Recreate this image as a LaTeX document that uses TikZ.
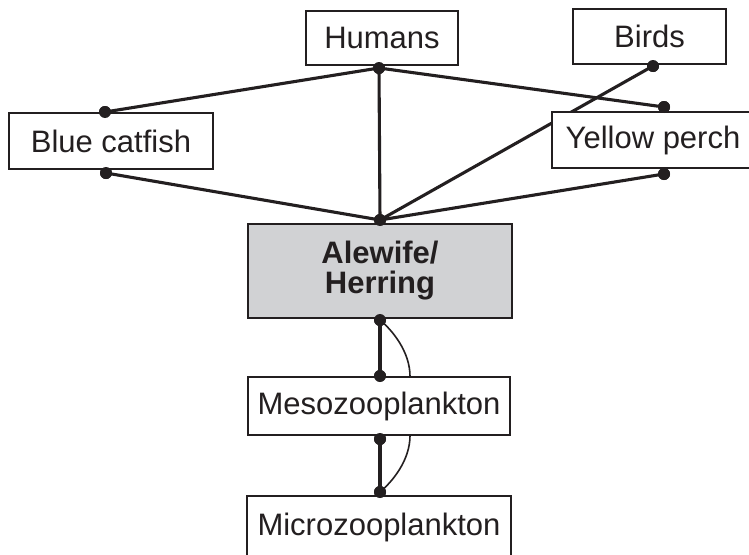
\documentclass[tikz,border=0pt]{standalone}
\usepackage{fontspec}
\setmainfont{Liberation Sans}
\definecolor{webink}{RGB}{35, 31, 32}
\definecolor{herringfill}{RGB}{209, 210, 212}
\usetikzlibrary{calc}

\begin{document}
\begin{tikzpicture}[x=1pt, y=-1pt,
    foodbox/.style={draw=webink, line width=1.3pt, fill=white, text=webink, inner sep=0pt, align=center, font=\fontsize{31}{31}\selectfont},
    dot/.style={circle, fill=webink, inner sep=0pt, minimum size=12pt},
    link/.style={draw=webink, line width=3.1pt},
    flow/.style={draw=webink, line width=1.6pt}]
    \useasboundingbox (0,0) rectangle (749,554);

    % feeding links first, boxes sit on top of them
    \node[dot] (humansdot) at (379,68) {};
    \node[dot] (birdsdot) at (653,66) {};
    \node[dot] (catfishtop) at (105,112) {};
    \node[dot] (catfishbot) at (106,173) {};
    \node[dot] (perchtop) at (664,107) {};
    \node[dot] (perchbot) at (664,174) {};
    \node[dot] (alewifetop) at (380,220) {};
    \node[dot] (alewifebot) at (380,320) {};
    \node[dot] (mesotop) at (380,376) {};
    \node[dot] (mesobot) at (380,439) {};
    \node[dot] (microtop) at (380,492) {};

    \draw[link] (humansdot.center) -- (alewifetop.center);
    \draw[link] (humansdot.center) -- (catfishtop.center);
    \draw[link] (humansdot.center) -- (perchtop.center);
    \draw[link] (birdsdot.center) -- (alewifetop.center);
    \draw[link] (catfishbot.center) -- (alewifetop.center);
    \draw[link] (perchbot.center) -- (alewifetop.center);
    \draw[link] (alewifebot.center) -- (mesotop.center);
    \draw[link] (mesobot.center) -- (microtop.center);

    % boxes
    \node[foodbox, minimum width=152pt, minimum height=54pt] (humans) at (382,38) {Humans};
    \node[foodbox, minimum width=153pt, minimum height=55pt] (birds) at (649.5,36.5) {Birds};
    \node[foodbox, minimum width=204pt, minimum height=56pt] (catfish) at (111,141) {Blue catfish};
    \node[foodbox, minimum width=202pt, minimum height=56pt] (perch) at (653,140) {Yellow perch};
    \node[foodbox, fill=herringfill, font=\fontsize{31}{30}\selectfont\bfseries, minimum width=264pt, minimum height=94pt] (alewife) at (380,271) {Alewife/\\Herring};
    \node[foodbox, minimum width=262pt, minimum height=58pt] (meso) at (379,406) {Mesozooplankton};
    \node[foodbox, minimum width=264pt, minimum height=62pt] (micro) at (379,527) {Microzooplankton};

    % dots again over the box edges
    \foreach \d in {humansdot, birdsdot, catfishtop, catfishbot, perchtop, perchbot, alewifetop, alewifebot, mesotop, mesobot, microtop}
        \fill[webink] (\d.center) circle (6pt);

    % return curves
    \coordinate (mesoin) at ($(meso.north)+(31,0)$);
    \coordinate (mesoout) at ($(meso.south)+(31,0)$);
    \draw[flow] (alewifebot.center) .. controls +(12,10) and +(0,-25) .. (mesoin);
    \draw[flow] (mesoout) .. controls +(0,25) and +(12,-10) .. (microtop.center);
\end{tikzpicture}
\end{document}
